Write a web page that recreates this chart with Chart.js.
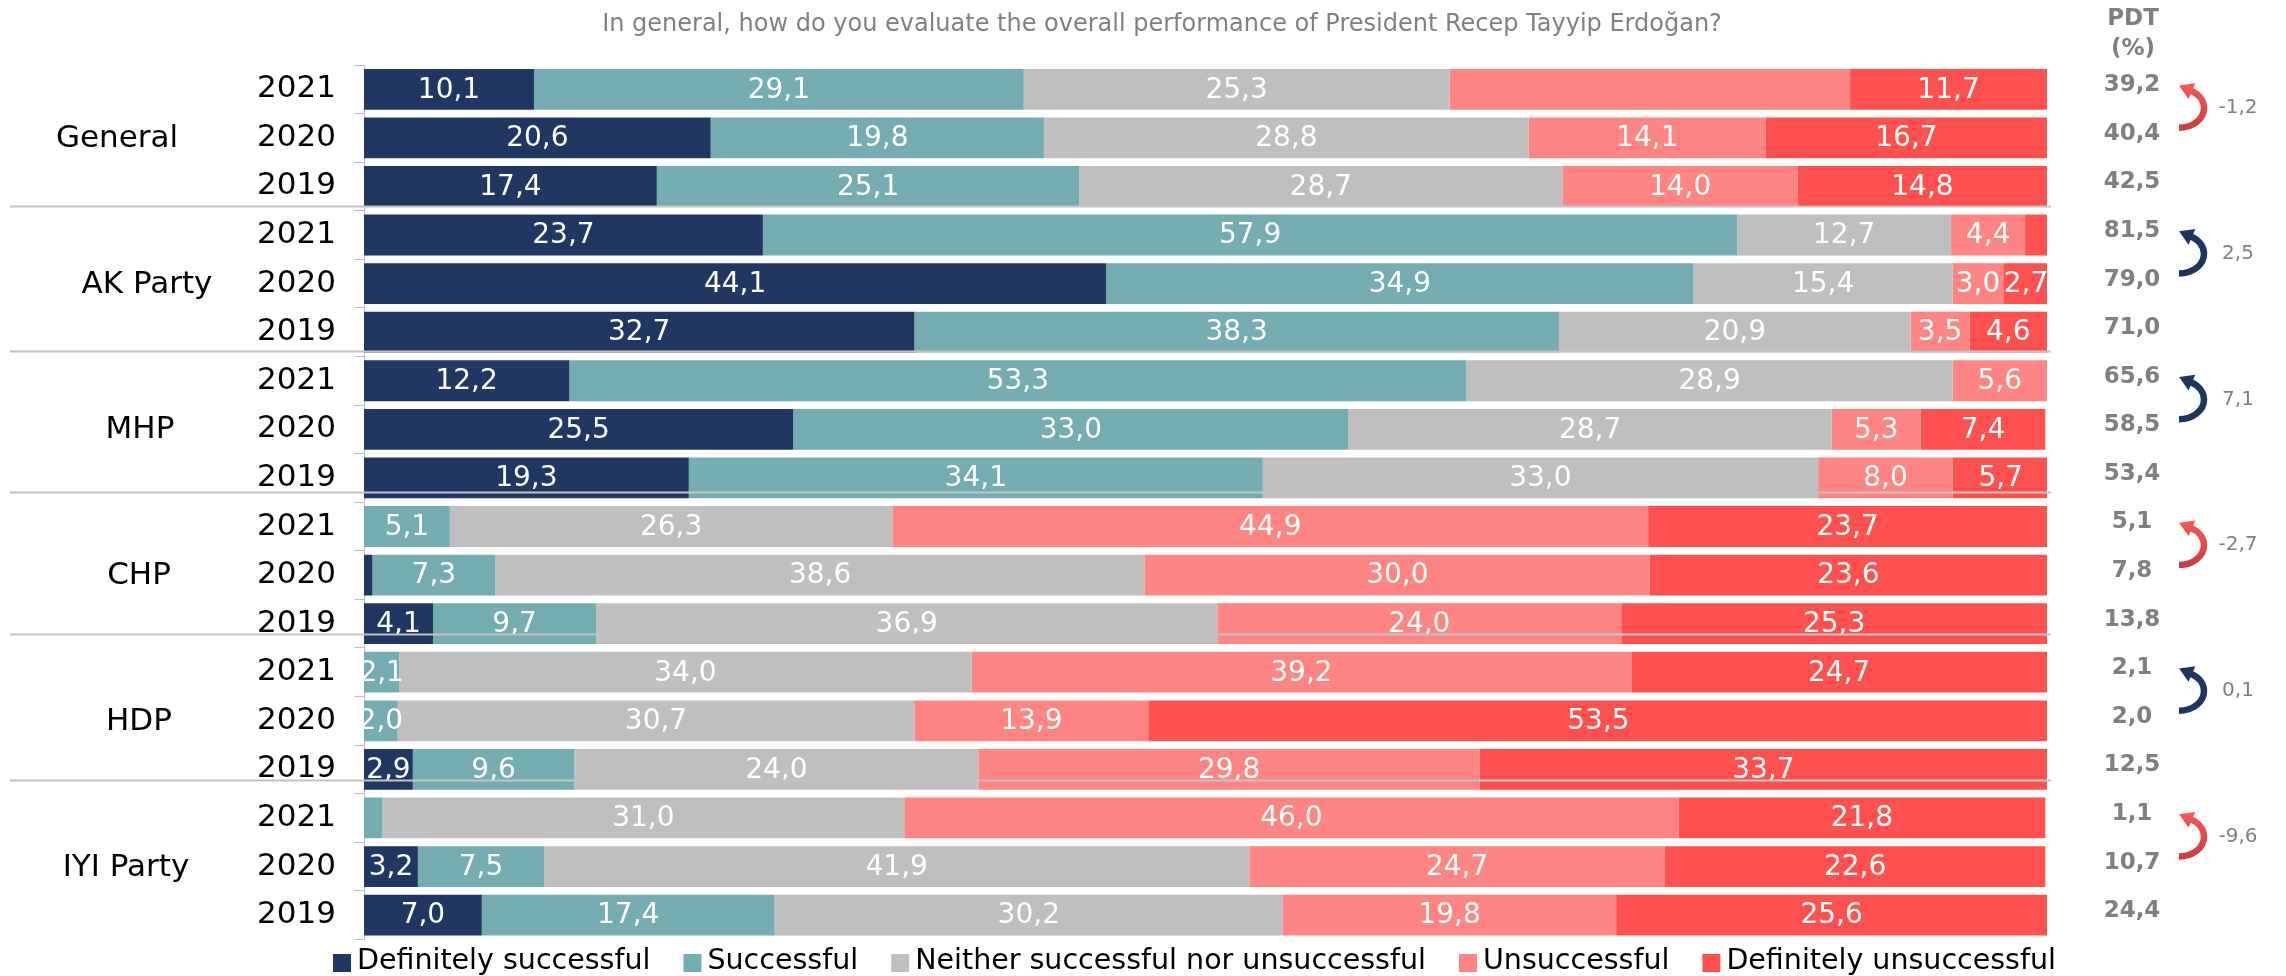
<!DOCTYPE html>
<html>
<head>
<meta charset="utf-8">
<script src="https://cdn.jsdelivr.net/npm/chart.js@4/dist/chart.umd.min.js"></script>
<style>
  html, body { margin: 0; padding: 0; background: #ffffff; }
  #wrap { width: 2286px; height: 976px; }
</style>
</head>
<body>
<div id="wrap"><canvas id="c" width="2286" height="976"></canvas></div>
<script>
// ---------------- DATA ----------------
const title = 'In general, how do you evaluate the overall performance of President Recep Tayyip Erdoğan?';
const groups = ['General', 'AK Party', 'MHP', 'CHP', 'HDP', 'IYI Party'];
const years = ['2021', '2020', '2019'];
const seriesNames = ['Definitely successful', 'Successful', 'Neither successful nor unsuccessful', 'Unsuccessful', 'Definitely unsuccessful'];

const definitelySuccessful   = [10.1, 20.6, 17.4, 23.7, 44.1, 32.7, 12.2, 25.5, 19.3, 0.0, 0.5, 4.1, 0.0, 0.0, 2.9, 0.0, 3.2, 7.0];
const successful             = [29.1, 19.8, 25.1, 57.9, 34.9, 38.3, 53.3, 33.0, 34.1, 5.1, 7.3, 9.7, 2.1, 2.0, 9.6, 1.1, 7.5, 17.4];
const neither                = [25.3, 28.8, 28.7, 12.7, 15.4, 20.9, 28.9, 28.7, 33.0, 26.3, 38.6, 36.9, 34.0, 30.7, 24.0, 31.0, 41.9, 30.2];
const unsuccessful           = [23.8, 14.1, 14.0, 4.4, 3.0, 3.5, 5.6, 5.3, 8.0, 44.9, 30.0, 24.0, 39.2, 13.9, 29.8, 46.0, 24.7, 19.8];
const definitelyUnsuccessful = [11.7, 16.7, 14.8, 1.3, 2.7, 4.6, 0.0, 7.4, 5.7, 23.7, 23.6, 25.3, 24.7, 53.5, 33.7, 21.8, 22.6, 25.6];

const pdt       = [39.2, 40.4, 42.5, 81.5, 79.0, 71.0, 65.6, 58.5, 53.4, 5.1, 7.8, 13.8, 2.1, 2.0, 12.5, 1.1, 10.7, 24.4];
const pdtChange = [-1.2, 2.5, 7.1, -2.7, 0.1, -9.6];

// labels not printed in the source (row index, series index)
const hiddenLabels = [[0, 3]];

// ---------------- STYLE ----------------
const colors = ['#213763', '#74adb1', '#bfbfbf', '#ff8585', '#ff5050'];
const FONT = '"DejaVu Sans", Verdana, sans-serif';
const groupLabelX = [117, 147, 140, 139, 139, 126];
const sepOffsets = [0.40, 0.38, 0.29, 0.22, 0.22];

const rowLabels = [];
groups.forEach(() => years.forEach(y => rowLabels.push(y)));
const seriesValues = [definitelySuccessful, successful, neither, unsuccessful, definitelyUnsuccessful];

const fmt = v => v.toFixed(1).replace('.', ',');
const fmtSigned = v => (v < 0 ? '-' : '') + Math.abs(v).toFixed(1).replace('.', ',');

function drawArrow(ctx, x, yTop, yBottom, positive) {
  const cy = (yTop + yBottom) / 2;
  const ry = (yBottom - yTop) / 2 - 2;
  const rx = 25;
  const endA = -1.07;
  let stroke;
  if (positive) {
    stroke = '#1f3560';
  } else {
    const g = ctx.createLinearGradient(0, yTop - 8, 0, yBottom + 6);
    g.addColorStop(0, '#ff5a5a');
    g.addColorStop(1, '#c23a3d');
    stroke = g;
  }
  ctx.save();
  ctx.strokeStyle = stroke;
  ctx.fillStyle = stroke;
  ctx.lineWidth = 6.5;
  ctx.beginPath();
  ctx.ellipse(x, cy, rx, ry, 0, Math.PI / 2, endA, true);
  ctx.stroke();
  const ex = x + rx * Math.cos(endA), ey = cy + ry * Math.sin(endA);
  let dx = rx * Math.sin(endA), dy = -ry * Math.cos(endA);
  const len = Math.hypot(dx, dy); dx /= len; dy /= len;
  const tipX = ex + dx * 13, tipY = ey + dy * 13;
  const px = -dy, py = dx;
  ctx.beginPath();
  ctx.moveTo(tipX, tipY);
  ctx.lineTo(ex + px * 8.5 - dx * 1, ey + py * 8.5 - dy * 1);
  ctx.lineTo(ex - px * 8.5 - dx * 1, ey - py * 8.5 - dy * 1);
  ctx.closePath();
  ctx.fill();
  ctx.restore();
}

const decor = {
  id: 'decor',
  afterDatasetsDraw(chart) {
    const ctx = chart.ctx;
    const ys = chart.scales.y;
    const nSeries = chart.data.datasets.length;
    ctx.save();
    ctx.font = '28px ' + FONT;
    ctx.fillStyle = '#ffffff';
    ctx.textAlign = 'center';
    ctx.textBaseline = 'middle';
    for (let s = 0; s < nSeries; s++) {
      const meta = chart.getDatasetMeta(s);
      meta.data.forEach((bar, i) => {
        const v = seriesValues[s][i];
        if (v < 2) return;
        if (hiddenLabels.some(h => h[0] === i && h[1] === s)) return;
        const p = bar.getProps(['x', 'y', 'base'], true);
        ctx.fillText(fmt(v), (p.x + p.base) / 2, p.y + 1);
      });
    }
    // group separators
    ctx.strokeStyle = '#c3c3c3';
    ctx.lineWidth = 2;
    for (let g = 0; g < groups.length - 1; g++) {
      const y = Math.round(ys.getPixelForValue(g * 3 + 2 + sepOffsets[g])) + 0.5;
      ctx.beginPath();
      ctx.moveTo(10, y);
      ctx.lineTo(2051, y);
      ctx.stroke();
    }
    ctx.restore();
  },
  afterDraw(chart) {
    const ctx = chart.ctx;
    const ys = chart.scales.y;
    ctx.save();
    // title
    ctx.font = '24px ' + FONT;
    ctx.fillStyle = '#808080';
    ctx.textAlign = 'center';
    ctx.textBaseline = 'middle';
    ctx.fillText(title, 1162, 25);
    // group labels
    ctx.font = '31px ' + FONT;
    ctx.fillStyle = '#000000';
    groups.forEach((g, i) => {
      ctx.fillText(g, groupLabelX[i], ys.getPixelForValue(i * 3 + 1) + 1);
    });
    // PDT header
    ctx.font = 'bold 23px ' + FONT;
    ctx.fillStyle = '#7f7f7f';
    ctx.fillText('PDT', 2133, 19);
    ctx.fillText('(%)', 2133, 49);
    pdt.forEach((v, i) => {
      ctx.fillText(fmt(v), 2132, ys.getPixelForValue(i) - 4);
    });
    // arrows and change values
    pdtChange.forEach((d, g) => {
      const yTop = ys.getPixelForValue(g * 3) - 3;
      const yBot = ys.getPixelForValue(g * 3 + 1) - 8;
      drawArrow(ctx, 2179, yTop, yBot, d >= 0);
      ctx.font = '20px ' + FONT;
      ctx.fillStyle = '#808080';
      ctx.textAlign = 'center';
      ctx.fillText(fmtSigned(d), 2238, (yTop + yBot) / 2);
    });
    // legend
    ctx.font = '28.5px ' + FONT;
    ctx.textAlign = 'left';
    ctx.textBaseline = 'middle';
    let x = 333;
    const ly = 962;
    seriesNames.forEach((name, i) => {
      ctx.fillStyle = colors[i];
      ctx.fillRect(x, ly - 8, 18, 18);
      ctx.fillStyle = '#000000';
      ctx.fillText(name, x + 24, ly);
      x += 24 + ctx.measureText(name).width + 33;
    });
    ctx.restore();
  }
};

new Chart(document.getElementById('c'), {
  type: 'bar',
  data: {
    labels: rowLabels,
    datasets: seriesNames.map((name, i) => ({
      label: name,
      data: seriesValues[i],
      backgroundColor: colors[i],
      borderWidth: 0,
      barPercentage: 0.84,
      categoryPercentage: 1.0
    }))
  },
  options: {
    indexAxis: 'y',
    responsive: false,
    animation: false,
    devicePixelRatio: 1,
    layout: { padding: { left: 0, right: 239, top: 65, bottom: 29 } },
    plugins: { legend: { display: false }, title: { display: false }, tooltip: { enabled: false } },
    scales: {
      x: { stacked: true, min: 0, max: 100, display: false },
      y: {
        stacked: true,
        afterFit(scale) { scale.width = 364; },
        grid: { offset: true, drawOnChartArea: false, drawTicks: true, tickLength: 10, color: '#bfbfbf', lineWidth: 1 },
        border: { display: true, color: '#bfbfbf', width: 1 },
        ticks: { color: '#000000', font: { family: FONT, size: 31 }, padding: 18, autoSkip: false }
      }
    }
  },
  plugins: [decor]
});
</script>
</body>
</html>
